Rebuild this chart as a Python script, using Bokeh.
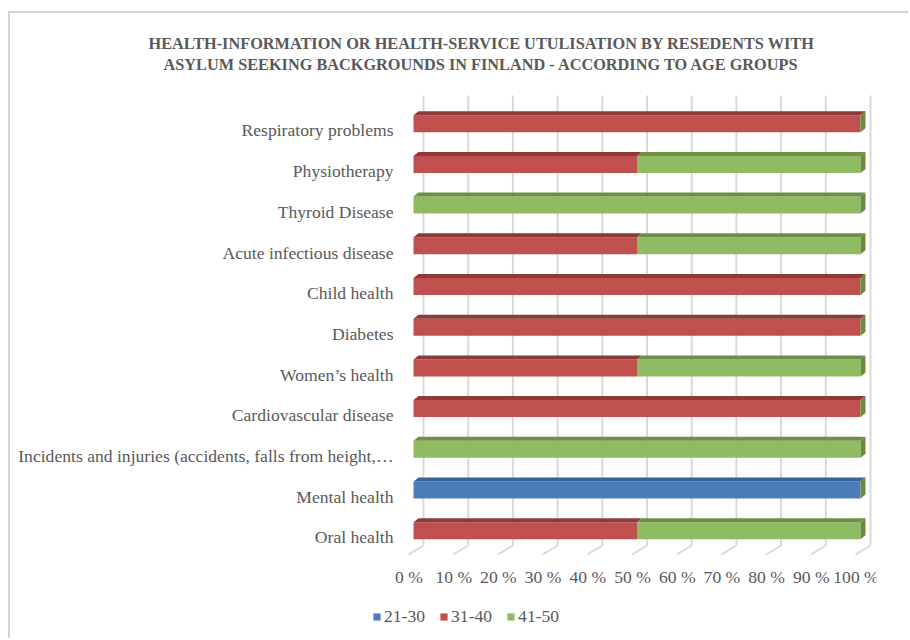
from bokeh.plotting import figure
from bokeh.models import Range1d, FixedTicker, ColumnDataSource, Legend, LegendItem, Title
from bokeh.core.properties import value
from bokeh.embed import file_html
from bokeh.resources import INLINE

# ---------------- data ----------------
categories = [
    "Oral health",
    "Mental health",
    "Incidents and injuries (accidents, falls from height,\u2026",
    "Cardiovascular disease",
    "Women\u2019s health",
    "Diabetes",
    "Child health",
    "Acute infectious disease",
    "Thyroid Disease",
    "Physiotherapy",
    "Respiratory problems",
]
age_groups = ["21-30", "31-40", "41-50"]
v_21_30 = [0, 100, 0, 0, 0, 0, 0, 0, 0, 0, 0]
v_31_40 = [50, 0, 0, 100, 50, 100, 100, 50, 0, 50, 100]
v_41_50 = [50, 0, 100, 0, 50, 0, 0, 50, 100, 50, 0]
tick_values = [0, 10, 20, 30, 40, 50, 60, 70, 80, 90, 100]
tick_labels = ["0 %", "10 %", "20 %", "30 %", "40 %", "50 %", "60 %", "70 %", "80 %", "90 %", "100 %"]
title_line1 = "HEALTH-INFORMATION OR HEALTH-SERVICE UTULISATION BY RESEDENTS WITH"
title_line2 = "ASYLUM SEEKING BACKGROUNDS IN FINLAND - ACCORDING TO AGE GROUPS"

# ---------------- style ----------------
front_colors = ["#4A7EBB", "#C0504D", "#8FBC62"]
top_colors = ["#3A6496", "#8E3A38", "#6E8F47"]
side_color = "#6A8A40"
grid_color = "#D9D9D9"
text_color = "#595959"
FONT = "Liberation Serif"
LABEL_SIZE = "17.6px"

PX_X = 4.47   # px per x unit
PX_Y = 40.7   # px per category
DX_BACK = 10 / PX_X
DX_FLOOR = -15 / PX_X
GRID_TOP = 10.86
GRID_BACK_BOTTOM = -0.197
GRID_FRONT_BOTTOM = -0.418
BAR_OFF = 6.8 / PX_Y
BAR_HALF = 8.5 / PX_Y
DEPTH_X = 5 / PX_X
DEPTH_Y = 4 / PX_Y
TICK_LABEL_Y = -0.983
TICK_LABEL_DX = -1.0

p = figure(width=900, height=627, output_backend="svg", toolbar_location=None,
           x_range=Range1d(-9.62, 103.58), y_range=Range1d(-2.531, 11.40),
           x_axis_location=None, min_border_left=360, min_border_right=34,
           min_border_top=60, min_border_bottom=0)
p.margin = (13, 0, 0, 10)
p.styles = {"box-shadow": "-2px -2px 0 0 #D4D4D4"}
p.outline_line_color = None
p.xgrid.visible = False
p.ygrid.visible = False
p.background_fill_color = "white"
p.border_fill_color = "white"

# gridlines (back wall + floor)
gx = [v + DX_BACK for v in tick_values]
p.segment(x0=gx, y0=[GRID_TOP] * len(gx), x1=gx, y1=[GRID_BACK_BOTTOM] * len(gx),
          line_color=grid_color, line_width=2)
p.segment(x0=gx, y0=[GRID_BACK_BOTTOM] * len(gx),
          x1=[v + DX_BACK + DX_FLOOR for v in tick_values], y1=[GRID_FRONT_BOTTOM] * len(gx),
          line_color=grid_color, line_width=2)

# bars
series = [v_21_30, v_31_40, v_41_50]
ys = [i + BAR_OFF for i in range(len(categories))]
cum = [0] * len(categories)
renderers = []
for s, vals in enumerate(series):
    lefts = cum[:]
    rights = [c + v for c, v in zip(cum, vals)]
    cum = rights
    src = ColumnDataSource(dict(y=ys, left=lefts, right=rights))
    r = p.hbar(y="y", left="left", right="right", height=2 * BAR_HALF, source=src,
               fill_color=front_colors[s], line_color=None)
    renderers.append(r)
    pxs, pys = [], []
    for yc, l, rr in zip(ys, lefts, rights):
        if rr > l:
            yt = yc + BAR_HALF
            pxs.append([l, rr, rr + DEPTH_X, l + DEPTH_X])
            pys.append([yt, yt, yt + DEPTH_Y, yt + DEPTH_Y])
    if pxs:
        p.patches(xs=pxs, ys=pys, fill_color=top_colors[s], line_color=None)

# end caps
sxs, sys_ = [], []
for yc, total in zip(ys, cum):
    yt, yb = yc + BAR_HALF, yc - BAR_HALF
    sxs.append([total, total + DEPTH_X, total + DEPTH_X, total])
    sys_.append([yt, yt + DEPTH_Y, yb + DEPTH_Y, yb])
p.patches(xs=sxs, ys=sys_, fill_color=side_color, line_color=None)

# y axis (categories)
yax = p.yaxis[0]
yax.ticker = FixedTicker(ticks=list(range(len(categories))))
yax.major_label_overrides = {i: c for i, c in enumerate(categories)}
yax.axis_line_color = None
yax.major_tick_line_color = None
yax.minor_tick_line_color = None
yax.major_tick_out = 0
yax.major_tick_in = 0
yax.major_label_standoff = -23
yax.major_label_text_font = FONT
yax.major_label_text_font_size = LABEL_SIZE
yax.major_label_text_color = text_color

# percent labels along the floor front edge
p.text(x=[v + TICK_LABEL_DX for v in tick_values], y=[TICK_LABEL_Y] * len(tick_values),
       text=tick_labels, text_align="center", text_baseline="middle",
       text_font=value(FONT), text_font_size=LABEL_SIZE, text_color=text_color)

# titles
p.title.text = title_line1
p.title.align = "left"
p.title.offset = -222
p.title.text_font = FONT
p.title.text_font_style = "bold"
p.title.text_font_size = "16.3px"
p.title.text_color = text_color
p.title.standoff = 0
t2 = Title(text=title_line2, align="left", offset=-207, text_font=FONT, text_font_style="bold",
           text_font_size="16.3px", text_color=text_color, standoff=0)
p.add_layout(t2, "above")

# legend
items = [LegendItem(label=g, renderers=[r]) for g, r in zip(age_groups, renderers)]
legend = Legend(items=items, orientation="horizontal", location=(2, 13),
                glyph_width=9, glyph_height=9, label_standoff=3, spacing=14,
                padding=0, margin=0, border_line_color=None, background_fill_alpha=0,
                label_text_font=FONT, label_text_font_size=LABEL_SIZE,
                label_text_color=text_color)
p.add_layout(legend, "center")

open("out.html", "w").write(file_html(p, INLINE))
